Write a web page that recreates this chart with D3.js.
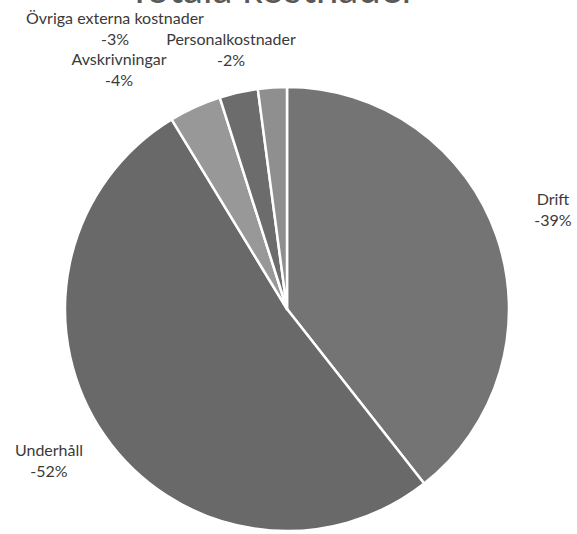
<!DOCTYPE html>
<html>
<head>
<meta charset="utf-8">
<script src="https://cdn.jsdelivr.net/npm/d3@7/dist/d3.min.js"></script>
<style>
  html, body { margin: 0; padding: 0; background: #fff; }
  svg { display: block; }
</style>
</head>
<body>
<script>
// Data (share of total costs, in percent)
const categories = ['Drift', 'Underhåll', 'Avskrivningar', 'Övriga externa kostnader', 'Personalkostnader'];
const values = [-39.4, -51.9, -3.8, -2.8, -2.1];
const valueLabels = ['-39%', '-52%', '-4%', '-3%', '-2%'];
const colors = ['#747474', '#696969', '#989898', '#6c6c6c', '#8f8f8f'];

// Label anchor points (centre of the text block, first line baseline)
const labelPos = [
  [553, 205],
  [49, 456],
  [119, 65],
  [115, 24],
  [231, 45]
];

const width = 577;
const height = 534;
const radius = 222;
const cx = 287;
const cy = 309;

const data = categories.map((name, i) => ({ name: name, value: values[i], label: valueLabels[i], pos: labelPos[i] }));

const svg = d3.select('body')
  .append('svg')
  .attr('width', width)
  .attr('height', height);

// Title, mostly cut off at the top edge
svg.append('text')
  .attr('x', 272)
  .attr('y', 3)
  .attr('text-anchor', 'middle')
  .attr('font-family', 'Lato, sans-serif')
  .attr('font-size', 40)
  .attr('fill', '#595959')
  .text('Totala kostnader');

// Pie
const pie = d3.pie().sort(null).value(d => Math.abs(d.value));
const arc = d3.arc().innerRadius(0).outerRadius(radius);

const g = svg.append('g')
  .attr('transform', 'translate(' + cx + ',' + cy + ')');

g.selectAll('.slice')
  .data(pie(data))
  .enter().append('path')
  .attr('class', 'slice')
  .attr('d', arc)
  .attr('fill', (d, i) => colors[i])
  .attr('stroke', '#fff')
  .attr('stroke-width', 2.5)
  .attr('stroke-linejoin', 'round');

// Labels
const labels = svg.selectAll('.lbl')
  .data(data)
  .enter().append('text')
  .attr('class', 'lbl')
  .attr('text-anchor', 'middle')
  .attr('font-family', 'Lato, sans-serif')
  .attr('font-size', 16)
  .attr('fill', '#3a3a3a');

labels.append('tspan')
  .attr('x', d => d.pos[0])
  .attr('y', d => d.pos[1])
  .text(d => d.name);

labels.append('tspan')
  .attr('x', d => d.pos[0])
  .attr('y', d => d.pos[1] + 21)
  .text(d => d.label);
</script>
</body>
</html>
